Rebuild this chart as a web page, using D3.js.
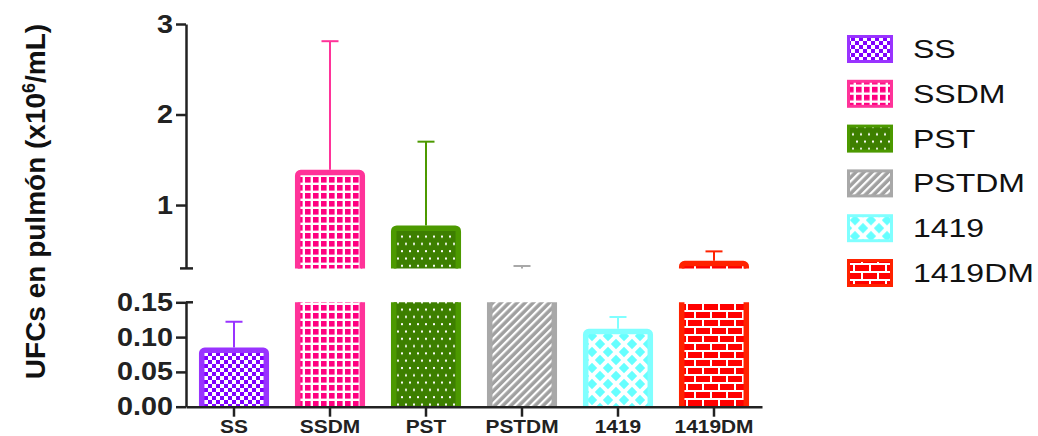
<!DOCTYPE html>
<html>
<head>
<meta charset="utf-8">
<script src="https://cdn.jsdelivr.net/npm/d3@7"></script>
<style>
  html, body { margin: 0; padding: 0; background: #fff; }
  svg { display: block; font-family: "Liberation Sans", Arial, sans-serif; }
</style>
</head>
<body>
<svg id="chart" width="1038" height="436"></svg>
<script>
// Groups and their lung CFU counts (mean and upper error, x10^6/mL)
const categories = ["SS", "SSDM", "PST", "PSTDM", "1419", "1419DM"];
const means      = [0.085, 1.39, 0.775, 0.28, 0.112, 0.385];
const errors     = [0.037, 1.42, 0.925, 0.046, 0.017, 0.103];

// Broken y axis: upper and lower segments
const upperDomain = [0.3, 3];
const lowerDomain = [0, 0.15];
const upperTicks = [1, 2, 3];
const lowerTicks = [0, 0.05, 0.10, 0.15];

// Per-group colours: pattern ink and bar outline
const inkColors    = ["#8000ff", "#ff0080", "#3d7f00", "#a0a0a0", "#66ffff", "#ff0000"];
const borderColors = ["#9933ff", "#ff3399", "#4c9900", "#a8a8a8", "#80ffff", "#ff2200"];
const patternIds   = ["pSS", "pSSDM", "pPST", "pPSTDM", "p1419", "p1419DM"];

const svg = d3.select("#chart");
const axisColor = "#222";

// ---- fill patterns ----
const defs = svg.append("defs");
function pattern(id, w, h) {
  return defs.append("pattern").attr("id", id)
    .attr("patternUnits", "userSpaceOnUse").attr("width", w).attr("height", h);
}
// checkerboard
{
  const p = pattern("pSS", 8, 8);
  p.append("rect").attr("width", 8).attr("height", 8).attr("fill", "#fff");
  p.append("rect").attr("width", 4).attr("height", 4).attr("fill", inkColors[0]);
  p.append("rect").attr("x", 4).attr("y", 4).attr("width", 4).attr("height", 4).attr("fill", inkColors[0]);
}
// square grid
{
  const p = pattern("pSSDM", 8, 8);
  p.append("rect").attr("width", 8).attr("height", 8).attr("fill", "#fff");
  p.append("rect").attr("x", 1).attr("y", 1).attr("width", 5.6).attr("height", 5.6).attr("fill", inkColors[1]);
}
// staggered dots
{
  const p = pattern("pPST", 8, 14.6);
  p.append("rect").attr("width", 8).attr("height", 14.6).attr("fill", inkColors[2]);
  p.append("rect").attr("x", 1).attr("y", 2).attr("width", 2).attr("height", 2).attr("fill", "#fff");
  p.append("rect").attr("x", 5).attr("y", 9.3).attr("width", 2).attr("height", 2).attr("fill", "#fff");
}
// diagonal stripes
{
  const p = pattern("pPSTDM", 5.7, 5.7).attr("patternTransform", "rotate(45)");
  p.append("rect").attr("width", 5.7).attr("height", 5.7).attr("fill", inkColors[3]);
  p.append("rect").attr("width", 2.2).attr("height", 5.7).attr("fill", "#fff");
}
// diamond lattice
{
  const p = pattern("p1419", 16, 16);
  p.append("rect").attr("width", 16).attr("height", 16).attr("fill", "#fff");
  const r = 5.2;
  [[0, 0], [16, 0], [0, 16], [16, 16], [8, 8]].forEach(([cx, cy]) => {
    p.append("polygon")
      .attr("points", `${cx},${cy - r} ${cx + r},${cy} ${cx},${cy + r} ${cx - r},${cy}`)
      .attr("fill", inkColors[4]);
  });
}
// bricks
{
  const p = pattern("p1419DM", 16, 16);
  p.append("rect").attr("width", 16).attr("height", 16).attr("fill", "#fff");
  p.append("rect").attr("x", 0).attr("y", 0).attr("width", 14).attr("height", 6).attr("fill", inkColors[5]);
  p.append("rect").attr("x", -8).attr("y", 8).attr("width", 14).attr("height", 6).attr("fill", inkColors[5]);
  p.append("rect").attr("x", 8).attr("y", 8).attr("width", 14).attr("height", 6).attr("fill", inkColors[5]);
}

// ---- scales ----
const x = d3.scaleBand().domain(categories).range([186, 762])
  .paddingInner(0.27).paddingOuter(0.135);
const yUpper = d3.scaleLinear().domain(upperDomain).range([268.4, 24]);
const yLower = d3.scaleLinear().domain(lowerDomain).range([406.7, 302.3]);

const segments = [
  { y: yUpper, clipId: "clipUpper", top: 0, bottom: yUpper(upperDomain[0]) },
  { y: yLower, clipId: "clipLower", top: yLower(lowerDomain[1]), bottom: yLower(0) }
];

const data = categories.map((c, i) => ({
  c, mean: means[i], err: errors[i],
  fill: `url(#${patternIds[i]})`, border: borderColors[i]
}));

const sw = 5.5;      // bar outline width
const capHalf = 8.5; // error cap half width

segments.forEach(seg => {
  defs.append("clipPath").attr("id", seg.clipId)
    .append("rect").attr("x", 0).attr("y", seg.top)
    .attr("width", 1038).attr("height", seg.bottom - seg.top);

  const g = svg.append("g").attr("clip-path", `url(#${seg.clipId})`);
  const base = seg.y(0) + 20;

  // error bars (upper side only)
  const eb = g.selectAll("g.err").data(data).join("g").attr("class", "err")
    .attr("stroke", d => d.border).attr("stroke-width", 2);
  eb.append("line")
    .attr("x1", d => x(d.c) + x.bandwidth() / 2)
    .attr("x2", d => x(d.c) + x.bandwidth() / 2)
    .attr("y1", d => seg.y(d.mean))
    .attr("y2", d => seg.y(d.mean + d.err));
  eb.append("line")
    .attr("x1", d => x(d.c) + x.bandwidth() / 2 - capHalf)
    .attr("x2", d => x(d.c) + x.bandwidth() / 2 + capHalf)
    .attr("y1", d => seg.y(d.mean + d.err))
    .attr("y2", d => seg.y(d.mean + d.err));

  // bars
  g.selectAll("rect.bar").data(data).join("rect").attr("class", "bar")
    .attr("x", d => x(d.c) + sw / 2)
    .attr("y", d => seg.y(d.mean) + sw / 2)
    .attr("width", x.bandwidth() - sw)
    .attr("height", d => Math.max(0, base - seg.y(d.mean) - sw / 2))
    .attr("rx", 3)
    .attr("fill", d => d.fill)
    .attr("stroke", d => d.border)
    .attr("stroke-width", sw);
});

// ---- axes ----
function styleAxis(g, fontSize, weight, sx) {
  g.select(".domain").attr("stroke", axisColor).attr("stroke-width", 2.5);
  g.selectAll(".tick line").attr("stroke", axisColor).attr("stroke-width", 2.5);
  g.selectAll(".tick text")
    .attr("fill", axisColor)
    .style("font-size", fontSize + "px")
    .style("font-weight", weight)
    .style("font-family", "'Liberation Sans', Arial, sans-serif");
}

function stretchText(sel, sx) {
  sel.each(function () {
    const t = d3.select(this);
    const xx = +t.attr("x") || 0;
    t.attr("x", xx / sx).attr("transform", `scale(${sx},1)`);
  });
}

const gUpper = svg.append("g").attr("transform", "translate(186,0)")
  .call(d3.axisLeft(yUpper).tickValues(upperTicks).tickSize(10).tickSizeOuter(0)
    .tickPadding(3).tickFormat(d3.format("d")));
styleAxis(gUpper, 25, "bold");
stretchText(gUpper.selectAll(".tick text"), 1.15);

const gLower = svg.append("g").attr("transform", "translate(186,0)")
  .call(d3.axisLeft(yLower).tickValues(lowerTicks).tickSize(10).tickSizeOuter(0)
    .tickPadding(3).tickFormat(d3.format(".2f")));
styleAxis(gLower, 25, "bold");
stretchText(gLower.selectAll(".tick text"), 1.15);

// break caps at the segment ends
svg.append("line")
  .attr("x1", 180).attr("x2", 193)
  .attr("y1", yUpper(upperDomain[0])).attr("y2", yUpper(upperDomain[0]))
  .attr("stroke", axisColor).attr("stroke-width", 2.5);
svg.append("line")
  .attr("x1", 186).attr("x2", 193)
  .attr("y1", yLower(lowerDomain[1])).attr("y2", yLower(lowerDomain[1]))
  .attr("stroke", axisColor).attr("stroke-width", 2.5);

const gX = svg.append("g").attr("transform", `translate(0,${yLower(0)})`)
  .call(d3.axisBottom(x).tickSize(10).tickSizeOuter(0).tickPadding(3));
styleAxis(gX, 19, "bold");
gX.selectAll(".tick text").attr("transform", "scale(1.1,1)");

// y axis title
const title = svg.append("text")
  .attr("transform", "translate(45,201.5) rotate(-90)")
  .attr("text-anchor", "middle")
  .attr("fill", "#111")
  .style("font-size", "28px")
  .style("font-weight", "bold");
title.append("tspan").text("UFCs en pulmón (x10");
title.append("tspan").attr("dy", -10).style("font-size", "18px").text("6");
title.append("tspan").attr("dy", 10).text("/mL)");

// ---- legend ----
const legend = svg.append("g").attr("transform", "translate(847,0)");
const rowY = d3.scalePoint().domain(categories).range([49, 273]);
const items = legend.selectAll("g.item").data(data).join("g").attr("class", "item")
  .attr("transform", d => `translate(0,${rowY(d.c)})`);
items.append("rect")
  .attr("x", 1.5).attr("y", -12.5).attr("width", 43).attr("height", 25)
  .attr("fill", d => d.fill).attr("stroke", d => d.border).attr("stroke-width", 3);
items.append("text")
  .attr("x", 66 / 1.28).attr("dy", "0.36em")
  .attr("transform", "scale(1.28,1)")
  .attr("fill", "#111")
  .style("font-size", "25px")
  .text(d => d.c);
</script>
</body>
</html>
